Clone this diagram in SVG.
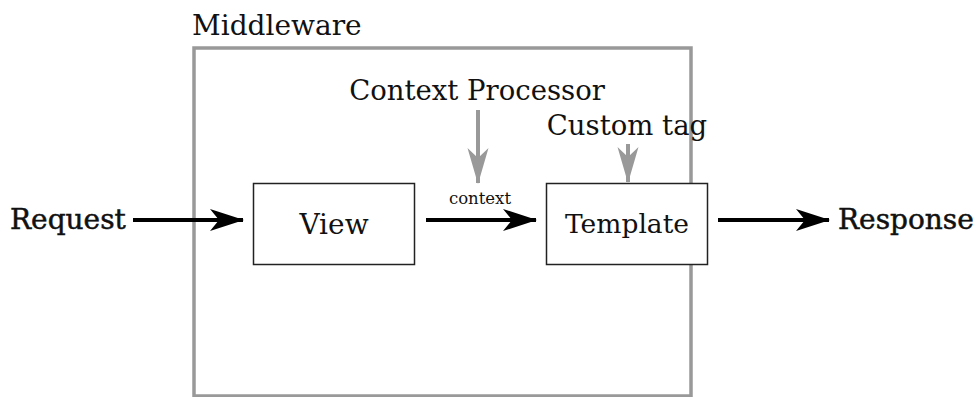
<svg xmlns="http://www.w3.org/2000/svg" width="978" height="397" viewBox="0 0 978 397">
<defs>
<style>
text{font-family:"DejaVu Serif","Liberation Serif",serif;fill:#111}
.box{fill:#fff;stroke:#222;stroke-width:1.5}
.blk{stroke:#000;stroke-width:4;fill:none}
.gry{stroke:#999;stroke-width:4;fill:none}
</style>
<marker id="ab" markerUnits="userSpaceOnUse" viewBox="0 0 34 22" refX="33" refY="11" markerWidth="34" markerHeight="22" orient="auto">
<path d="M0,0 L34,11 L0,22 L9,11 Z" fill="#000"/>
</marker>
<marker id="ag" markerUnits="userSpaceOnUse" viewBox="0 0 36 22" refX="35" refY="11" markerWidth="36" markerHeight="22" orient="auto">
<path d="M0,0.5 L36,11 L0,21.5 L10,11 Z" fill="#999"/>
</marker>
</defs>
<rect width="978" height="397" fill="#fff"/>
<g id="middleware">
<rect x="194" y="48" width="497" height="348" fill="none" stroke="#999" stroke-width="3.5"/>
<text x="192" y="35" font-size="28">Middleware</text>
</g>
<g id="context-processor">
<text x="477" y="100" font-size="27.5" text-anchor="middle">Context Processor</text>
</g>
<g id="custom-tag">
<text x="627" y="135" font-size="27.5" text-anchor="middle">Custom tag</text>
</g>
<g id="request">
<text x="10" y="229" font-size="28" stroke="#111" stroke-width="0.5">Request</text>
</g>
<g id="response">
<text x="838" y="229" font-size="28" stroke="#111" stroke-width="0.5">Response</text>
</g>
<g id="view">
<rect class="box" x="253.5" y="183.5" width="161" height="81"/>
<text x="334" y="234" font-size="28" text-anchor="middle">View</text>
</g>
<g id="template">
<rect class="box" x="546.5" y="183.5" width="161" height="81"/>
<text x="627" y="233" font-size="26.5" text-anchor="middle">Template</text>
</g>
<g id="connectors">
<line class="blk" x1="133" y1="220" x2="243" y2="220" marker-end="url(#ab)"/>
<line class="blk" x1="426" y1="220" x2="536" y2="220" marker-end="url(#ab)"/>
<text x="480" y="204" font-size="16.5" text-anchor="middle">context</text>
<line class="blk" x1="718" y1="220" x2="829" y2="220" marker-end="url(#ab)"/>
<line class="gry" x1="478" y1="110" x2="478" y2="183" marker-end="url(#ag)"/>
<line class="gry" x1="628" y1="144" x2="628" y2="182" marker-end="url(#ag)"/>
</g>
</svg>
